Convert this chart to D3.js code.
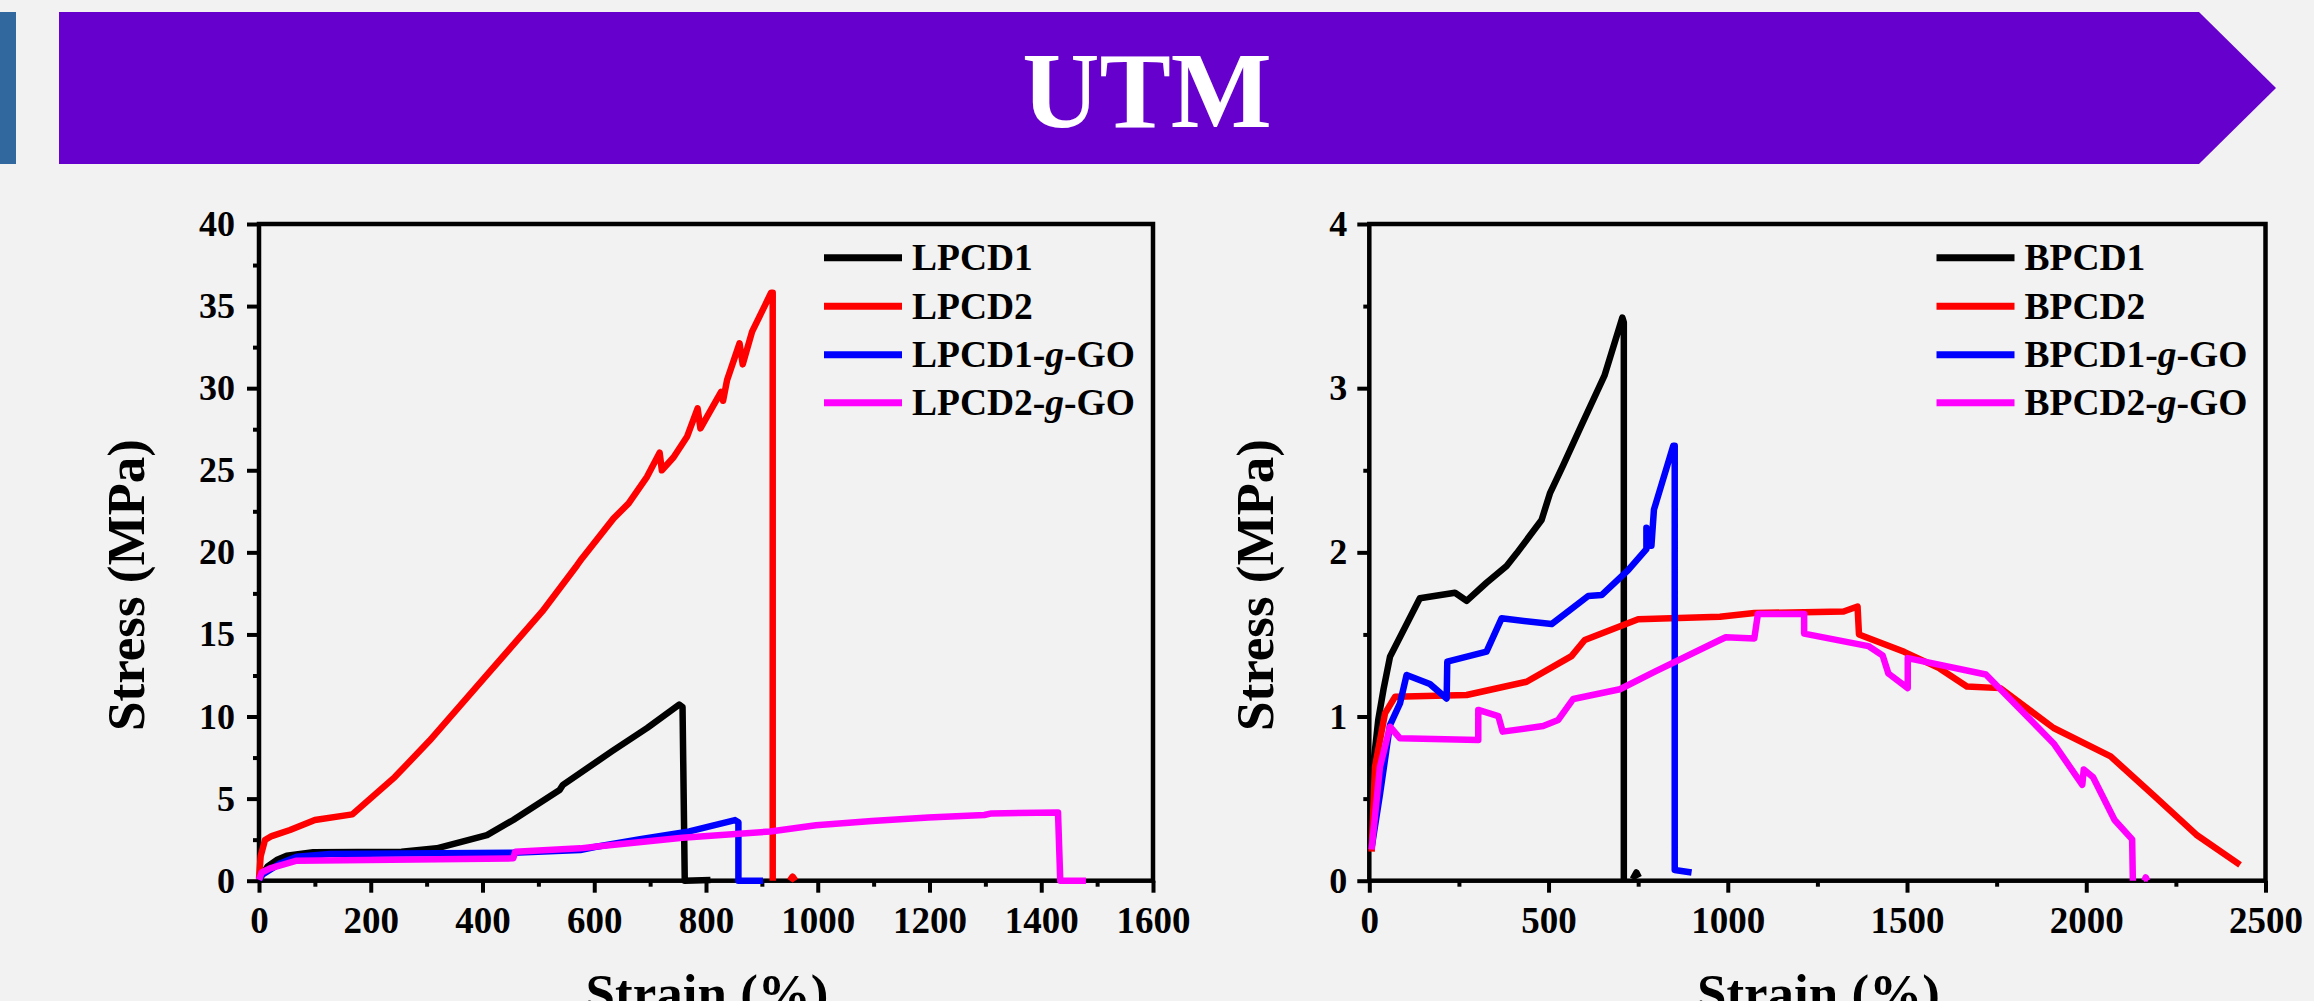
<!DOCTYPE html>
<html>
<head>
<meta charset="utf-8">
<script src="https://cdn.jsdelivr.net/npm/d3@7/dist/d3.min.js"></script>
<style>
  html, body { margin: 0; padding: 0; background: #f2f2f2; }
  svg { display: block; }
  text { font-family: "Liberation Serif", "Times New Roman", serif; font-weight: bold; }
</style>
</head>
<body>
<svg id="chart" width="2314" height="1001"></svg>
<script>
// ---------- DATA ----------
const titleText = "UTM";
const xLabel = "Strain (%)";
const yLabel = "Stress (MPa)";

// Left panel: [strain %, stress MPa]; null = gap
const LPCD1 = [[0,0.05],[15,0.85],[31.6,1.26],[49.6,1.52],[97,1.73],[255,1.77],[318,1.97],[408,2.78],[455,3.7],[538,5.52],[544,5.84],[632,7.89],[695,9.31],[752,10.73],[758,10.57],[762,0],[808,0.05]];
const LPCD2 = [[0,0.1],[3,1.5],[10.7,2.48],[22.7,2.72],[55.5,3.09],[100,3.7],[167,4.04],[243,6.31],[305,8.52],[406,12.46],[507,16.4],[569,19.2],[578,19.63],[634.6,22.07],[661.5,22.98],[694.4,24.6],[717,26.07],[721,25.0],[742,25.79],[766,27.04],[785,28.77],[790,27.55],[827,29.78],[830.5,29.23],[837.7,30.49],[860,32.73],[865.7,31.45],[882.5,33.44],[916.5,35.81],[919.4,35.81],[919.4,0],null,[950,0],[955,0.25],[960,0]];
const LPCD1_GO = [[0,0.05],[4.8,0.35],[37.6,1.05],[67.5,1.46],[127,1.62],[455,1.7],[575,1.87],[601,2.05],[682,2.52],[770,3.0],[852,3.69],[858,3.56],[858,0],[902,0]];
const LPCD2_GO = [[0,0.05],[4.8,0.5],[19.7,0.75],[67.5,1.22],[455,1.36],[458.5,1.77],[575,1.97],[601,2.07],[758,2.62],[915,3.0],[997,3.38],[1097,3.63],[1198,3.85],[1298,4.0],[1311,4.1],[1430,4.16],[1434,0],[1480,0]];

// Right panel
const BPCD1 = [[3,0.2],[11,0.7],[25,0.98],[40,1.17],[57.7,1.364],[141,1.72],[239,1.754],[271.5,1.705],[327,1.815],[383,1.917],[411,1.994],[480.6,2.197],[503.8,2.359],[541,2.532],[592,2.775],[656,3.076],[706,3.43],[710,3.40],[710,0],null,[735,0.01],[745,0.05],[752,0.02]];
const BPCD2 = [[6.5,0.177],[15.9,0.694],[43.8,1.019],[71.7,1.12],[271.5,1.131],[438.8,1.212],[564,1.368],[601,1.466],[750,1.592],[978,1.608],[1074,1.63],[1323,1.64],[1362,1.67],[1366,1.50],[1492,1.394],[1591,1.293],[1667,1.183],[1760,1.173],[1909,0.93],[2068,0.757],[2188,0.52],[2307,0.28],[2429,0.096]];
const BPCD1_GO = [[6.5,0.2],[30,0.53],[57.7,0.948],[85.6,1.08],[104,1.253],[169,1.198],[215.8,1.11],[217.5,1.334],[327,1.395],[369,1.598],[508.6,1.563],[610.6,1.734],[648,1.74],[722,1.892],[773,2.02],[773,2.15],[777,2.04],[787,2.04],[794,2.26],[848,2.65],[852,2.65],[852,0.065],[899,0.05]];
const BPCD2_GO = [[6.5,0.19],[29.8,0.694],[57.7,0.938],[85.6,0.867],[304,0.857],[304,1.04],[360,1.003],[372,0.908],[485,0.942],[527,0.979],[569,1.107],[699,1.166],[796.6,1.273],[978,1.466],[994.5,1.483],[1074,1.476],[1084,1.625],[1213,1.625],[1213,1.505],[1392,1.429],[1432,1.372],[1448,1.262],[1502,1.173],[1502,1.356],[1720,1.256],[1909,0.836],[1989,0.584],[1993,0.678],[2019,0.63],[2079,0.37],[2128,0.252],[2130,0],null,[2162,0],[2166,0.02],[2170,0]];

const seriesColors = ["#000000", "#ff0000", "#0000ff", "#ff00ff"];
const leftNames = [["LPCD1"], ["LPCD2"], ["LPCD1-", "g", "-GO"], ["LPCD2-", "g", "-GO"]];
const rightNames = [["BPCD1"], ["BPCD2"], ["BPCD1-", "g", "-GO"], ["BPCD2-", "g", "-GO"]];

const leftXTicks = [0,200,400,600,800,1000,1200,1400,1600];
const leftXMinor = [100,300,500,700,900,1100,1300,1500];
const leftYTicks = [0,5,10,15,20,25,30,35,40];
const leftYMinor = [2.5,7.5,12.5,17.5,22.5,27.5,32.5,37.5];
const rightXTicks = [0,500,1000,1500,2000,2500];
const rightXMinor = [250,750,1250,1750,2250];
const rightYTicks = [0,1,2,3,4];
const rightYMinor = [0.5,1.5,2.5,3.5];

// ---------- DRAW ----------
const svg = d3.select("#chart");
svg.append("rect").attr("width", 2314).attr("height", 1001).attr("fill", "#f2f2f2");

// Banner
svg.append("rect").attr("x", 0).attr("y", 12).attr("width", 16).attr("height", 152).attr("fill", "#31699e");
svg.append("path")
  .attr("d", "M59,12 L2199,12 L2276,88 L2199,164 L59,164 Z")
  .attr("fill", "#6600cc");
svg.append("text").attr("x", 1147).attr("y", 127).attr("text-anchor", "middle")
  .attr("fill", "#ffffff").style("font-size", "107px").text(titleText);

function panel(opts) {
  const x = d3.scaleLinear().domain(opts.xDomain).range(opts.xRange);
  const y = d3.scaleLinear().domain(opts.yDomain).range([880.7, 224]);
  const g = svg.append("g");

  // Axes (major + minor)
  const xAxis = d3.axisBottom(x).tickValues(opts.xTicks).tickSize(12).tickSizeOuter(0).tickPadding(14).tickFormat(d3.format("d"));
  const xMinor = d3.axisBottom(x).tickValues(opts.xMinor).tickSize(6).tickSizeOuter(0).tickFormat("");
  const yAxis = d3.axisLeft(y).tickValues(opts.yTicks).tickSize(12).tickSizeOuter(0).tickPadding(opts.yPad).tickFormat(d3.format("d"));
  const yMinor = d3.axisLeft(y).tickValues(opts.yMinor).tickSize(6).tickSizeOuter(0).tickFormat("");

  [[xAxis, "x"], [xMinor, "x"], [yAxis, "y"], [yMinor, "y"]].forEach(([ax, k]) => {
    const a = g.append("g")
      .attr("transform", k === "x" ? `translate(0,${y(0)})` : `translate(${x(0)},0)`)
      .call(ax);
    a.select(".domain").remove();
    a.selectAll(".tick line").attr("stroke", "#000").attr("stroke-width", 4);
    a.selectAll(".tick text").attr("fill", "#000")
      .style("font-size", k === "x" ? "37px" : "36px")
      .style("font-family", '"Liberation Serif", "Times New Roman", serif')
      .style("font-weight", "bold");
  });

  // Frame
  g.append("rect")
    .attr("x", x(opts.xDomain[0])).attr("y", y(opts.yDomain[1]))
    .attr("width", x(opts.xDomain[1]) - x(opts.xDomain[0]))
    .attr("height", y(opts.yDomain[0]) - y(opts.yDomain[1]))
    .attr("fill", "none").attr("stroke", "#000").attr("stroke-width", 4.5);

  // Series
  const line = d3.line().defined(d => d !== null).x(d => x(d[0])).y(d => y(d[1]));
  opts.series.forEach((s, i) => {
    g.append("path").datum(s).attr("d", line)
      .attr("fill", "none").attr("stroke", seriesColors[i])
      .attr("stroke-width", 6.5).attr("stroke-linejoin", "round").attr("stroke-linecap", "butt");
  });

  // Legend
  const right = x(opts.xDomain[1]);
  const rowY = [257.7, 306.3, 354.7, 402.7];
  opts.names.forEach((parts, i) => {
    g.append("line")
      .attr("x1", right - 329).attr("x2", right - 251)
      .attr("y1", rowY[i]).attr("y2", rowY[i])
      .attr("stroke", seriesColors[i]).attr("stroke-width", 7);
    const t = g.append("text").attr("x", right - 241).attr("y", rowY[i] + 12.5)
      .style("font-size", "37.5px").attr("fill", "#000");
    parts.forEach((p, j) => {
      const ts = t.append("tspan").text(p);
      if (parts.length === 3 && j === 1) ts.style("font-style", "italic");
    });
  });

  // Axis titles
  g.append("text")
    .attr("transform", `translate(${opts.yLabelX},585) rotate(-90)`)
    .attr("text-anchor", "middle").style("font-size", "53px").attr("fill", "#000")
    .text(yLabel);
  g.append("text")
    .attr("x", (x(opts.xDomain[0]) + x(opts.xDomain[1])) / 2 + 1).attr("y", 1011)
    .attr("text-anchor", "middle").style("font-size", "53px").attr("fill", "#000")
    .text(xLabel);
}

panel({
  xDomain: [0, 1600], xRange: [259, 1153], yDomain: [0, 40],
  xTicks: leftXTicks, xMinor: leftXMinor, yTicks: leftYTicks, yMinor: leftYMinor,
  yPad: 12, yLabelX: 144,
  series: [LPCD1, LPCD2, LPCD1_GO, LPCD2_GO], names: leftNames
});
panel({
  xDomain: [0, 2500], xRange: [1369.3, 2265.5], yDomain: [0, 4],
  xTicks: rightXTicks, xMinor: rightXMinor, yTicks: rightYTicks, yMinor: rightYMinor,
  yPad: 10, yLabelX: 1273,
  series: [BPCD1, BPCD2, BPCD1_GO, BPCD2_GO], names: rightNames
});
</script>
</body>
</html>
